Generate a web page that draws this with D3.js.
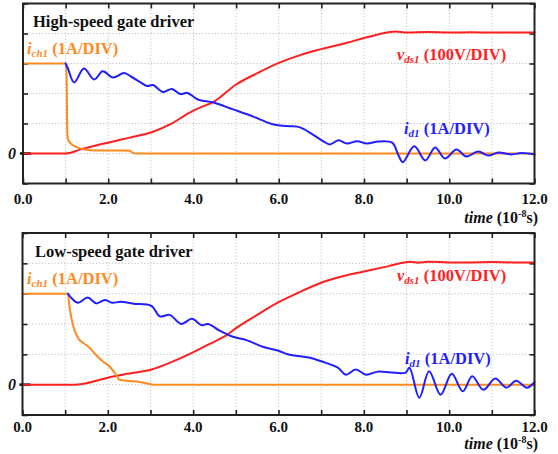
<!DOCTYPE html>
<html>
<head>
<meta charset="utf-8">
<script src="https://cdn.jsdelivr.net/npm/d3@7"></script>
<style>
  html, body { margin: 0; padding: 0; background: #fff; }
  svg, svg text { font-family: "Liberation Serif", "DejaVu Serif", serif; font-weight: bold; }
</style>
</head>
<body>
<svg id="chart" width="558" height="454" font-family="Liberation Serif, DejaVu Serif, serif"></svg>
<script>
// Time axis in units of 10^-8 s, vertical axis in scope divisions
const timeTicks = d3.range(0, 13, 1);
const timeLabels = ["0.0", "2.0", "4.0", "6.0", "8.0", "10.0", "12.0"];
const divTicks = [-1, 0, 1, 2, 3, 4, 5];

// ---- High-speed gate driver ----
const hsIchT = [0, 1.0, 1.02, 1.04, 1.06, 1.15, 1.34, 1.57, 2.0, 2.3, 2.5, 2.58, 2.65, 12];
const hsIchV = [3, 3, 2.7, 0.68, 0.45, 0.3, 0.17, 0.11, 0.1, 0.1, 0.09, 0.02, 0, 0];

const hsVdsT = [0, 1.0, 1.34, 1.8, 2.0, 2.5, 3.0, 3.45, 3.92, 4.15, 4.47, 5.0, 5.5, 6.0, 6.5, 7.0, 7.6, 8.0, 8.33, 8.74, 9.0, 9.5, 10.0, 10.5, 11.0, 11.5, 12];
const hsVdsV = [0, 0, 0.13, 0.3, 0.36, 0.53, 0.7, 0.97, 1.37, 1.53, 1.72, 2.3, 2.68, 3.02, 3.28, 3.48, 3.69, 3.85, 3.97, 4.07, 4.03, 4.05, 4.03, 4.04, 4.03, 4.03, 4.03];

const hsIdT = [1.0, 1.05, 1.2, 1.43, 1.67, 1.87, 2.11, 2.37, 2.55, 2.75, 2.91, 3.05, 3.29, 3.49, 3.69, 3.86, 4.1, 4.47, 4.93, 5.4, 5.8, 6.03, 6.27, 6.5, 6.8, 7.09, 7.2, 7.4, 7.6, 7.84, 8.07, 8.34, 8.66, 8.8, 8.91, 9.18, 9.44, 9.67, 9.9, 10.17, 10.4, 10.68, 10.92, 11.15, 11.46, 11.7, 12];
const hsIdV = [3.0, 2.85, 2.37, 2.83, 2.47, 2.74, 2.53, 2.68, 2.55, 2.38, 2.25, 2.28, 2.05, 2.15, 1.98, 2.02, 1.8, 1.7, 1.47, 1.23, 1.0, 0.93, 0.91, 0.87, 0.63, 0.37, 0.3, 0.44, 0.33, 0.41, 0.33, 0.4, 0.36, -0.03, -0.29, 0.24, -0.23, 0.2, -0.17, 0.13, -0.1, 0.07, -0.07, 0.03, -0.03, 0.02, -0.03];

// ---- Low-speed gate driver ----
const lsIchT = [0, 1.06, 1.1, 1.18, 1.3, 1.42, 1.57, 1.73, 1.88, 2.04, 2.16, 2.28, 2.43, 2.75, 2.98, 3.05, 12];
const lsIchV = [3, 3, 2.58, 1.98, 1.54, 1.38, 1.22, 0.97, 0.77, 0.6, 0.39, 0.16, 0.13, 0.09, 0.02, 0, 0];

const lsVdsT = [0, 1.15, 1.5, 2.0, 2.5, 3.03, 3.5, 3.97, 4.4, 4.8, 5.02, 5.5, 6.0, 6.46, 7.0, 7.46, 8.0, 8.56, 9.1, 9.27, 9.5, 10.0, 10.5, 11.0, 11.5, 12];
const lsVdsV = [0, 0, 0.05, 0.23, 0.37, 0.5, 0.75, 1.05, 1.35, 1.65, 1.88, 2.3, 2.72, 3.03, 3.36, 3.56, 3.73, 3.9, 4.05, 4.02, 4.05, 4.03, 4.03, 4.04, 4.03, 4.03];

const lsIdT = [1.07, 1.15, 1.3, 1.53, 1.73, 1.93, 2.1, 2.3, 2.6, 3.02, 3.22, 3.45, 3.72, 3.97, 4.2, 4.35, 4.62, 4.93, 5.25, 5.63, 6.0, 6.22, 6.76, 7.0, 7.39, 7.58, 7.81, 8.05, 8.33, 8.64, 8.98, 9.07, 9.3, 9.53, 9.8, 10.06, 10.32, 10.54, 10.8, 11.08, 11.34, 11.57, 11.82, 12];
const lsIdV = [3.0, 2.85, 2.7, 2.87, 2.68, 2.79, 2.7, 2.73, 2.67, 2.6, 2.25, 2.3, 2.0, 2.17, 1.96, 2.0, 1.78, 1.58, 1.47, 1.25, 1.12, 1.0, 0.88, 0.77, 0.56, 0.33, 0.5, 0.33, 0.43, 0.4, 0.4, 0.56, -0.43, 0.44, -0.33, 0.36, -0.22, 0.28, -0.17, 0.2, -0.1, 0.13, -0.1, 0.08];

const ORANGE = "#ff8a1e", RED = "#ff1f1f", BLUE = "#1f1fff";
const SERIF = "Liberation Serif, DejaVu Serif, serif";

const svg = d3.select("#chart");

const panels = [
  {
    title: "High-speed gate driver",
    x0: 23, x1: 534.5, yTop: 3.5, yBot: 183.5,
    series: [
      { t: hsVdsT, v: hsVdsV, color: RED, smooth: false },
      { t: hsIchT, v: hsIchV, color: ORANGE, smooth: false },
      { t: hsIdT, v: hsIdV, color: BLUE, smooth: true }
    ],
    titlePos: [33, 27],
    ichPos: [27, 54], vdsPos: [397, 60], idPos: [404, 134],
    tickLabelY: 204, timeLabelY: 223
  },
  {
    title: "Low-speed gate driver",
    x0: 22.5, x1: 534.5, yTop: 233, yBot: 415,
    series: [
      { t: lsVdsT, v: lsVdsV, color: RED, smooth: false },
      { t: lsIchT, v: lsIchV, color: ORANGE, smooth: false },
      { t: lsIdT, v: lsIdV, color: BLUE, smooth: true }
    ],
    titlePos: [35, 257],
    ichPos: [27, 284], vdsPos: [397, 281], idPos: [405, 364],
    tickLabelY: 432, timeLabelY: 449
  }
];

// label made of an italic symbol, an italic subscript and an upright unit
function symbolLabel(g, pos, sym, sub, unit, color) {
  const t = g.append("text").attr("x", pos[0]).attr("y", pos[1])
    .attr("font-family", SERIF).attr("fill", color).attr("font-size", 16.5);
  t.append("tspan").attr("font-style", "italic").text(sym);
  t.append("tspan").attr("font-style", "italic").attr("font-size", 11).attr("dy", 3).text(sub);
  t.append("tspan").attr("dy", -3).text(" " + unit);
}

panels.forEach(p => {
  const x = d3.scaleLinear().domain([0, 12]).range([p.x0, p.x1]);
  const y = d3.scaleLinear().domain([-1, 5]).range([p.yBot, p.yTop]);
  const g = svg.append("g").attr("font-family", SERIF);

  // dotted grid
  g.append("g").selectAll("line").data(timeTicks.slice(1, -1)).join("line")
    .attr("x1", d => x(d)).attr("x2", d => x(d))
    .attr("y1", p.yTop).attr("y2", p.yBot)
    .attr("stroke", "#c4c4c4").attr("stroke-width", 1).attr("stroke-dasharray", "1.2,2");
  g.append("g").selectAll("line").data(divTicks.slice(1, -1)).join("line")
    .attr("x1", p.x0).attr("x2", p.x1)
    .attr("y1", d => y(d)).attr("y2", d => y(d))
    .attr("stroke", "#c4c4c4").attr("stroke-width", 1).attr("stroke-dasharray", "1.2,2");

  // inward ticks on all four sides
  const tickLen = 5;
  const axB = d3.axisTop(x).tickValues(timeTicks).tickSize(tickLen).tickFormat("");
  const axT = d3.axisBottom(x).tickValues(timeTicks).tickSize(tickLen).tickFormat("");
  const axL = d3.axisRight(y).tickValues(divTicks).tickSize(tickLen).tickFormat("");
  const axR = d3.axisLeft(y).tickValues(divTicks).tickSize(tickLen).tickFormat("");
  [[axB, `translate(0,${p.yBot})`], [axT, `translate(0,${p.yTop})`],
   [axL, `translate(${p.x0},0)`], [axR, `translate(${p.x1},0)`]].forEach(([ax, tr]) => {
    const a = g.append("g").attr("transform", tr).call(ax);
    a.select(".domain").remove();
    a.selectAll("line").attr("stroke", "#222").attr("stroke-width", 1.6);
  });

  // zero marker on the left edge
  g.append("line").attr("x1", p.x0 - 3).attr("x2", p.x0 + 8)
    .attr("y1", y(0)).attr("y2", y(0)).attr("stroke", "#111").attr("stroke-width", 2.6);
  g.append("text").attr("x", 12).attr("y", y(0) + 5).attr("text-anchor", "middle")
    .attr("font-size", 16).attr("font-style", "italic").attr("fill", "#111").text("0");

  // waveforms: ringing traces smoothed, monotone traces kept monotone
  const smoothLine = d3.line().x(d => x(d[0])).y(d => y(d[1])).curve(d3.curveCatmullRom.alpha(0.5));
  const monoLine = d3.line().x(d => x(d[0])).y(d => y(d[1])).curve(d3.curveMonotoneX);
  p.series.forEach(s => {
    g.append("path").datum(d3.zip(s.t, s.v)).attr("d", s.smooth ? smoothLine : monoLine)
      .attr("fill", "none").attr("stroke", s.color).attr("stroke-width", 2)
      .attr("stroke-linejoin", "round").attr("stroke-linecap", "round");
  });

  // frame
  g.append("rect").attr("x", p.x0).attr("y", p.yTop)
    .attr("width", p.x1 - p.x0).attr("height", p.yBot - p.yTop)
    .attr("fill", "none").attr("stroke", "#222").attr("stroke-width", 2);

  // time tick labels
  g.append("g").selectAll("text").data(timeLabels).join("text")
    .attr("x", (d, i) => x(i * 2)).attr("y", p.tickLabelY)
    .attr("text-anchor", "middle").attr("font-size", 15).attr("fill", "#111")
    .text(d => d);

  // time axis title
  const tl = g.append("text").attr("x", 538).attr("y", p.timeLabelY)
    .attr("text-anchor", "end").attr("font-size", 16).attr("fill", "#111");
  tl.append("tspan").attr("font-style", "italic").text("time");
  tl.append("tspan").text(" (10");
  tl.append("tspan").attr("font-size", 10).attr("dy", -6).text("-8");
  tl.append("tspan").attr("dy", 6).text("s)");

  // panel title and trace labels
  g.append("text").attr("x", p.titlePos[0]).attr("y", p.titlePos[1])
    .attr("font-size", 16.5).attr("fill", "#111").text(p.title);
  symbolLabel(g, p.ichPos, "i", "ch1", "(1A/DIV)", ORANGE);
  symbolLabel(g, p.vdsPos, "v", "ds1", "(100V/DIV)", RED);
  symbolLabel(g, p.idPos, "i", "d1", "(1A/DIV)", BLUE);
});
</script>
</body>
</html>
